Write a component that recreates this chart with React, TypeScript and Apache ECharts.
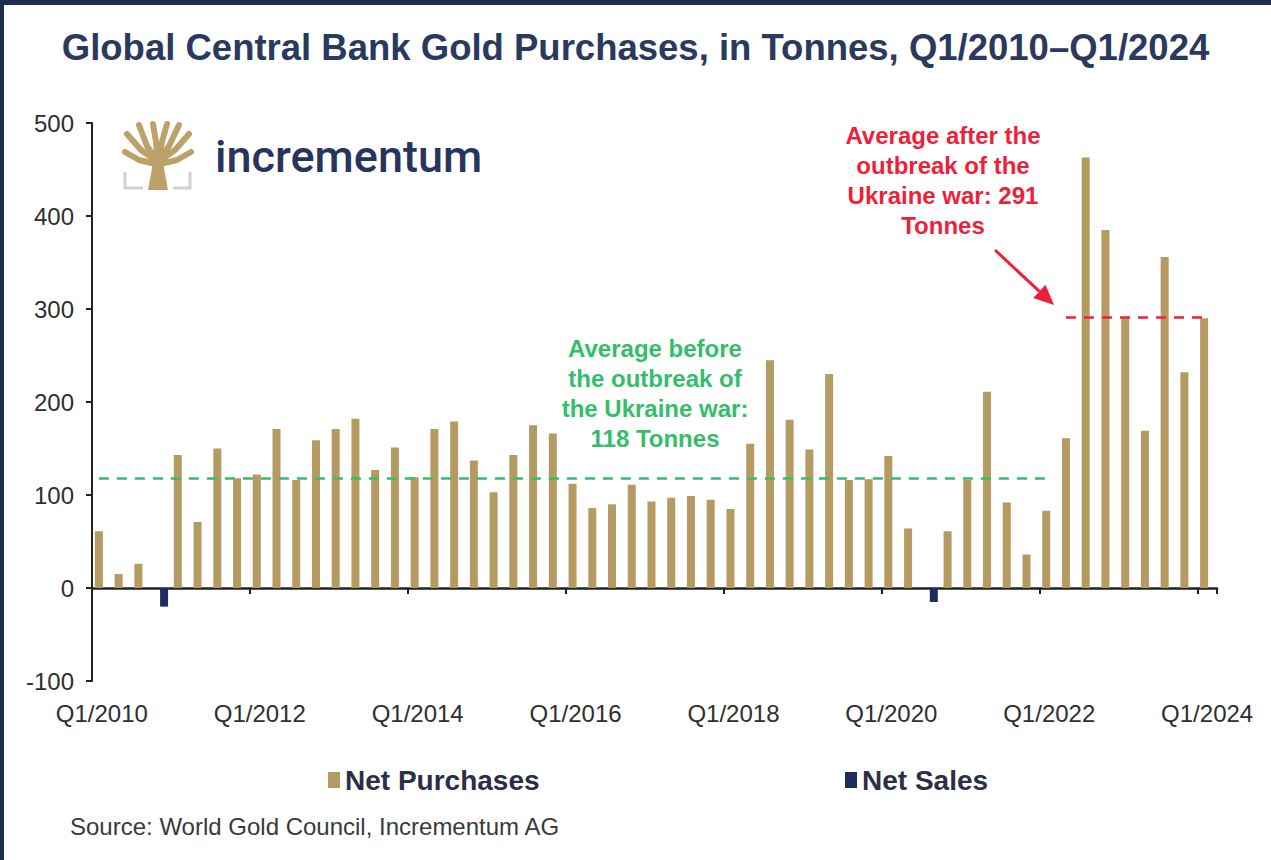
import React, { useEffect, useRef } from "react";
import * as echarts from "echarts";

const FONT = "'Liberation Sans', Arial, Helvetica, sans-serif";

const years = [2010, 2011, 2012, 2013, 2014, 2015, 2016, 2017, 2018, 2019, 2020, 2021, 2022, 2023, 2024];
const quarters = ["Q1", "Q2", "Q3", "Q4"];
const categories: string[] = years
  .flatMap((y) => quarters.map((q) => `${q}/${y}`))
  .slice(0, 57);

const netPurchases = [
  61, 15, 26, 0,
  143, 71, 150, 118,
  122, 171, 116, 159,
  171, 182, 127, 151,
  119, 171, 179, 137,
  103, 143, 175, 166,
  112, 86, 90, 111,
  93, 97, 99, 95,
  85, 155, 245, 181,
  149, 230, 116, 117,
  142, 64, 0, 61,
  116, 211, 92, 36,
  83, 161, 463, 385,
  290, 169, 356, 232,
  290,
];

const salesQuarters = ["Q4/2010", "Q3/2020"];
const salesValues = [-20, -15];

const avgBefore = 118;
const avgBeforeRange = ["Q1/2010", "Q1/2022"];
const avgAfter = 291;
const avgAfterRange = ["Q2/2022", "Q1/2024"];

const yMin = -100;
const yMax = 500;
const yStep = 100;

const GOLD = "#b59a62";
const NAVY = "#1f2d5c";
const GREEN = "#34bd6a";
const RED = "#ef1f3a";

const titleText = "Global Central Bank Gold Purchases, in Tonnes, Q1/2010–Q1/2024";
const greenNote = ["Average before", "the outbreak of", "the Ukraine war:", "118 Tonnes"];
const redNote = ["Average after the", "outbreak of the", "Ukraine war: 291", "Tonnes"];
const sourceText = "Source: World Gold Council, Incrementum AG";

export default function App() {
  const ref = useRef<HTMLDivElement>(null);

  useEffect(() => {
    if (!ref.current) return;
    const chart = echarts.init(ref.current, undefined, { renderer: "svg" });

    const salesData = categories.map((c) => {
      const i = salesQuarters.indexOf(c);
      return i >= 0 ? salesValues[i] : "-";
    });

    const gold = "#bca26a";
    const branch = (pts: number[][]) => ({
      type: "polyline",
      shape: { points: pts },
      style: { stroke: gold, lineWidth: 6, fill: "none", lineCap: "round", lineJoin: "round" },
    });

    // arrow geometry
    const tip = [1054, 305];
    const from = [995, 250];
    const dx = tip[0] - from[0];
    const dy = tip[1] - from[1];
    const len = Math.sqrt(dx * dx + dy * dy);
    const ux = dx / len;
    const uy = dy / len;
    const headL = 20;
    const headW = 9;
    const bx = tip[0] - ux * headL;
    const by = tip[1] - uy * headL;

    const option: any = {
      animation: false,
      backgroundColor: "#ffffff",
      textStyle: { fontFamily: FONT },
      title: {
        text: titleText,
        left: "center",
        top: 24,
        textStyle: { fontSize: 36.5, fontWeight: "bold", color: "#2a3a5e", fontFamily: FONT },
      },
      grid: { left: 92, top: 123, width: 1125, height: 558, containLabel: false },
      legend: [
        {
          data: ["Net Purchases"],
          left: 323,
          top: 761,
          icon: "rect",
          itemWidth: 12,
          itemHeight: 16,
          textStyle: { fontSize: 28, fontWeight: "bold", color: "#2b2f45", fontFamily: FONT },
        },
        {
          data: ["Net Sales"],
          left: 840,
          top: 761,
          icon: "rect",
          itemWidth: 12,
          itemHeight: 16,
          textStyle: { fontSize: 28, fontWeight: "bold", color: "#2b2f45", fontFamily: FONT },
        },
      ],
      xAxis: [
        {
          type: "category",
          data: categories,
          boundaryGap: true,
          axisLine: { show: true, onZero: true, lineStyle: { color: "#222", width: 2.5 } },
          axisTick: { show: true, interval: 7, length: 6, lineStyle: { color: "#222", width: 2 } },
          axisLabel: { show: false },
          splitLine: { show: false },
        },
        {
          type: "category",
          data: categories,
          position: "bottom",
          boundaryGap: true,
          axisLine: { show: false, onZero: false },
          axisTick: { show: false },
          axisLabel: { interval: 7, margin: 20, fontSize: 24, color: "#2e2e2e", fontFamily: FONT },
          splitLine: { show: false },
        },
      ],
      yAxis: {
        type: "value",
        min: yMin,
        max: yMax,
        interval: yStep,
        axisLine: { show: true, lineStyle: { color: "#222", width: 2 } },
        axisTick: { show: true, length: 6, lineStyle: { color: "#222", width: 2 } },
        axisLabel: { fontSize: 24, color: "#2e2e2e", margin: 18, fontFamily: FONT },
        splitLine: { show: false },
      },
      series: [
        {
          name: "Net Purchases",
          type: "bar",
          xAxisIndex: 0,
          data: netPurchases,
          barWidth: 8,
          barGap: "-25%",
          itemStyle: { color: GOLD },
          markLine: {
            silent: true,
            symbol: ["none", "none"],
            label: { show: false },
            data: [
              [
                { coord: [avgBeforeRange[0], avgBefore], lineStyle: { color: GREEN, width: 2.5, type: [10, 8] } },
                { coord: [avgBeforeRange[1], avgBefore] },
              ],
              [
                { coord: [avgAfterRange[0], avgAfter], lineStyle: { color: RED, width: 2.5, type: [10, 8] } },
                { coord: [avgAfterRange[1], avgAfter] },
              ],
            ],
          },
        },
        {
          name: "Net Sales",
          type: "bar",
          xAxisIndex: 0,
          data: salesData,
          barWidth: 8,
          itemStyle: { color: NAVY },
        },
      ],
      graphic: [
        { type: "rect", left: 0, top: 0, shape: { width: 1271, height: 5 }, style: { fill: "#1c2d4f" } },
        { type: "rect", left: 0, top: 0, shape: { width: 4, height: 860 }, style: { fill: "#1c2d4f" } },
        {
          type: "group",
          x: 123,
          y: 122,
          children: [
            {
              type: "polyline",
              shape: { points: [[2, 50], [2, 66], [20, 66]] },
              style: { stroke: "#d2d2d2", lineWidth: 3, fill: "none" },
            },
            {
              type: "polyline",
              shape: { points: [[50, 66], [67, 66], [67, 50]] },
              style: { stroke: "#d2d2d2", lineWidth: 3, fill: "none" },
            },
            branch([[35, 40], [33, 20], [30, 2]]),
            branch([[35, 40], [39, 20], [44, 2]]),
            branch([[35, 40], [24, 24], [16, 3]]),
            branch([[35, 40], [46, 24], [56, 3]]),
            branch([[35, 40], [18, 28], [4, 12]]),
            branch([[35, 40], [52, 28], [66, 12]]),
            branch([[33, 42], [16, 38], [2, 30]]),
            branch([[37, 42], [54, 38], [68, 30]]),
            {
              type: "polygon",
              shape: { points: [[25, 68], [45, 68], [41, 46], [39, 36], [31, 36], [29, 46]] },
              style: { fill: gold },
            },
          ],
        },
        {
          type: "text",
          x: 215,
          y: 156,
          style: {
            text: "incrementum",
            fontFamily: "Roboto, 'Liberation Sans', sans-serif",
            fontWeight: 500,
            fontSize: 45,
            fill: "#27345e",
            verticalAlign: "middle",
            align: "left",
          },
        },
        {
          type: "text",
          x: 655,
          y: 333,
          style: {
            text: greenNote.join("\n"),
            fontFamily: FONT,
            fontWeight: "bold",
            fontSize: 24,
            lineHeight: 30,
            fill: GREEN,
            align: "center",
            verticalAlign: "top",
          },
        },
        {
          type: "text",
          x: 943,
          y: 120,
          style: {
            text: redNote.join("\n"),
            fontFamily: FONT,
            fontWeight: "bold",
            fontSize: 24,
            lineHeight: 30,
            fill: RED,
            align: "center",
            verticalAlign: "top",
          },
        },
        {
          type: "line",
          shape: { x1: from[0], y1: from[1], x2: bx, y2: by },
          style: { stroke: RED, lineWidth: 3 },
        },
        {
          type: "polygon",
          shape: {
            points: [
              [tip[0], tip[1]],
              [bx - uy * headW, by + ux * headW],
              [bx + uy * headW, by - ux * headW],
            ],
          },
          style: { fill: RED },
        },
        {
          type: "text",
          x: 70,
          y: 826,
          style: {
            text: sourceText,
            fontFamily: FONT,
            fontSize: 24,
            fill: "#3a3a3a",
            align: "left",
            verticalAlign: "middle",
          },
        },
      ],
    };

    chart.setOption(option);
    return () => chart.dispose();
  }, []);

  return (
    <div
      ref={ref}
      style={{ position: "absolute", left: 0, top: 0, width: 1271, height: 860, background: "#fff" }}
    />
  );
}
